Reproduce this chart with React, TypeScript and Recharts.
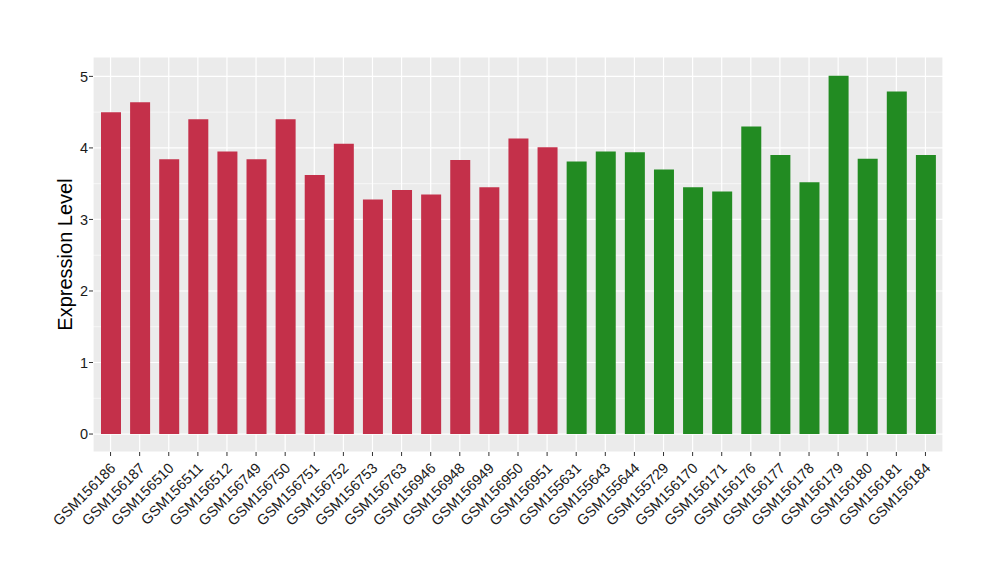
import { ComposedChart, Bar, Cell, XAxis, YAxis, CartesianGrid } from "recharts";

// sample names, in plot order
const samples = [
  "GSM156186", "GSM156187", "GSM156510", "GSM156511", "GSM156512", "GSM156749",
  "GSM156750", "GSM156751", "GSM156752", "GSM156753", "GSM156763", "GSM156946",
  "GSM156948", "GSM156949", "GSM156950", "GSM156951",
  "GSM155631", "GSM155643", "GSM155644", "GSM155729", "GSM156170", "GSM156171",
  "GSM156176", "GSM156177", "GSM156178", "GSM156179", "GSM156180", "GSM156181",
  "GSM156184",
];

const expression = [
  4.5, 4.64, 3.84, 4.4, 3.95, 3.84, 4.4, 3.62, 4.06, 3.28, 3.41, 3.35, 3.83, 3.45,
  4.13, 4.01,
  3.81, 3.95, 3.94, 3.7, 3.45, 3.39, 4.3, 3.9, 3.52, 5.01, 3.85, 4.79, 3.9,
];

// 0 = first group (red), 1 = second group (green)
const groups = [
  0, 0, 0, 0, 0, 0, 0, 0, 0, 0, 0, 0, 0, 0, 0, 0,
  1, 1, 1, 1, 1, 1, 1, 1, 1, 1, 1, 1, 1,
];

const yTicks = [0, 1, 2, 3, 4, 5];
const yMinor = [0.5, 1.5, 2.5, 3.5, 4.5];
const yDomain: [number, number] = [-0.251, 5.271];

const groupColors = ["#C4304A", "#228B22"];

const data = samples.map((name, i) => ({ name, value: expression[i], group: groups[i] }));

const FONT = "'Liberation Sans', Arial, sans-serif";

function XTick(props: any) {
  const { x, y, payload } = props;
  const ax = x + 6;
  const ay = y + 11;
  return (
    <text
      x={ax}
      y={ay}
      transform={`rotate(-45, ${ax}, ${ay})`}
      textAnchor="end"
      fontSize={14.5}
      fontFamily={FONT}
      fill="#1a1a1a"
    >
      {payload.value}
    </text>
  );
}

// minor grid positions, same linear mapping as the y axis
function minorLines({ offset }: any) {
  const [lo, hi] = yDomain;
  return yMinor.map((v) => offset.top + ((hi - v) / (hi - lo)) * offset.height);
}

export default function App() {
  return (
    <div style={{ position: "absolute", left: 0, top: 0, width: 1000, height: 580, background: "#fff" }}>
      <ComposedChart
        width={1000}
        height={580}
        data={data}
        margin={{ top: 57, right: 57, left: 0, bottom: 0 }}
        barCategoryGap={0}
      >
        {/* panel background + minor horizontal lines */}
        <CartesianGrid
          fill="#EBEBEB"
          stroke="#FFFFFF"
          strokeWidth={0.6}
          vertical={false}
          horizontalCoordinatesGenerator={minorLines}
        />
        <CartesianGrid stroke="#FFFFFF" strokeWidth={1.2} />
        <XAxis
          dataKey="name"
          interval={0}
          height={128}
          padding={{ left: 3, right: 3 }}
          axisLine={false}
          tickLine={{ stroke: "#333333" }}
          tickSize={4}
          tick={<XTick />}
        />
        <YAxis
          width={93}
          domain={yDomain}
          ticks={yTicks}
          allowDataOverflow
          axisLine={false}
          tickLine={{ stroke: "#333333" }}
          tickSize={4}
          tickMargin={1}
          tick={{ fontSize: 14.5, fontFamily: FONT, fill: "#1a1a1a" }}
          label={{
            content: ({ viewBox }: any) => (
              <text
                x={viewBox.x + 72}
                y={viewBox.y + viewBox.height / 2}
                transform={`rotate(-90, ${viewBox.x + 72}, ${viewBox.y + viewBox.height / 2})`}
                textAnchor="middle"
                fontSize={20}
                fontFamily={FONT}
                fill="#000"
              >
                Expression Level
              </text>
            ),
          }}
        />
        <Bar dataKey="value" barSize={20} isAnimationActive={false}>
          {data.map((d, i) => (
            <Cell key={i} fill={groupColors[d.group]} />
          ))}
        </Bar>
      </ComposedChart>
    </div>
  );
}
